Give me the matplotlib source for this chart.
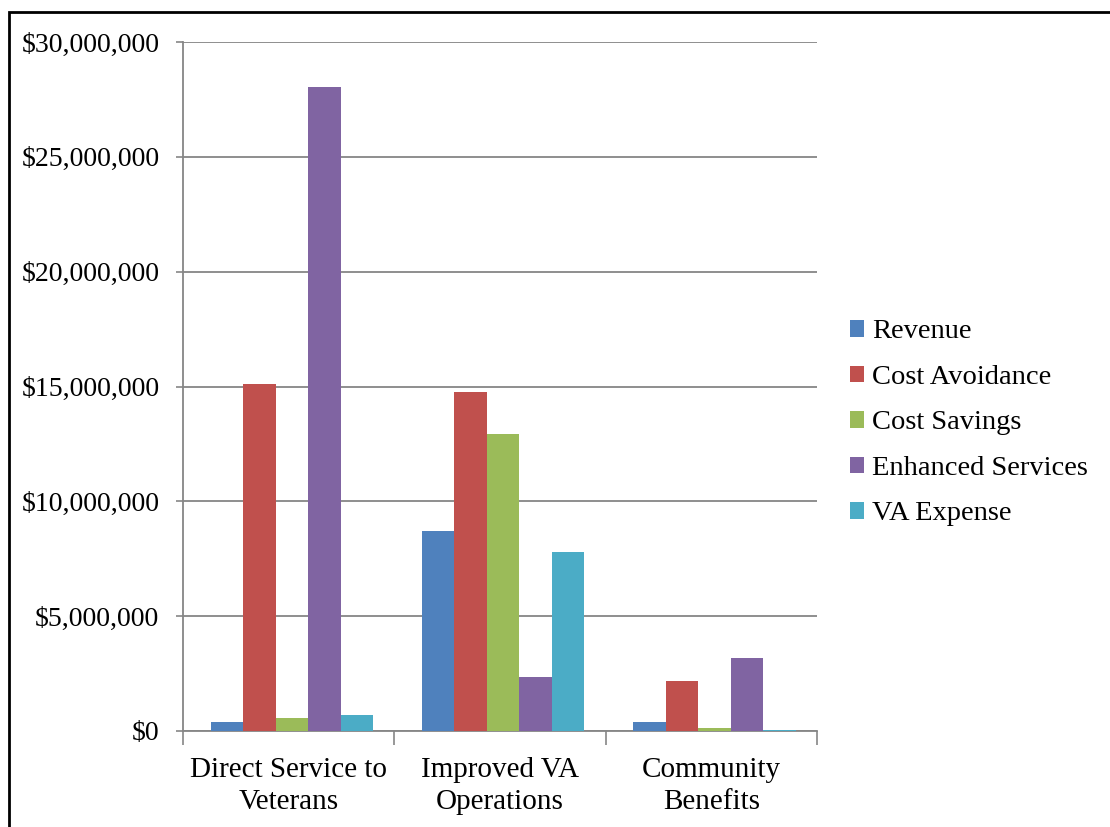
import matplotlib
matplotlib.use("Agg")
import matplotlib.pyplot as plt
import numpy as np
from matplotlib.patches import Rectangle
from matplotlib.ticker import FuncFormatter, FixedLocator

categories = ["Direct Service to\nVeterans", "Improved VA\nOperations", "Community\nBenefits"]
series_names = ["Revenue", "Cost Avoidance", "Cost Savings", "Enhanced Services", "VA Expense"]
revenue = [390000, 8720000, 380000]
cost_avoidance = [15100000, 14760000, 2160000]
cost_savings = [570000, 12930000, 130000]
enhanced_services = [28060000, 2330000, 3200000]
va_expense = [700000, 7800000, 60000]
colors = ["#4F81BD", "#C0504D", "#9BBB59", "#8064A2", "#4BACC6"]
y_ticks = [0, 5000000, 10000000, 15000000, 20000000, 25000000, 30000000]

plt.rcParams['font.family'] = ['Liberation Serif', 'DejaVu Serif']

fig = plt.figure(figsize=(11.1, 8.27), dpi=100)
ax = fig.add_axes([183/1110, 1-731/827, (817-183)/1110, (731-42)/827])

data = [revenue, cost_avoidance, cost_savings, enhanced_services, va_expense]
n = len(series_names)
x = np.arange(len(categories))
bw = 1.0 / (n + 1.5)
for i, (name, vals) in enumerate(zip(series_names, data)):
    offs = (i - (n - 1) / 2) * bw + 0.015
    ax.bar(x + offs, vals, width=bw, color=colors[i], label=name, zorder=3)

ax.set_xlim(-0.5, len(categories) - 0.5)
ax.set_ylim(0, 30000000)
ax.set_yticks(y_ticks)
ax.yaxis.set_major_formatter(FuncFormatter(lambda v, p: "${:,.0f}".format(v)))
ax.grid(axis='y', color='#868686', linewidth=1.3, zorder=0)
ax.set_axisbelow(True)

ax.set_xticks(x)
ax.set_xticklabels(categories, fontsize=21, linespacing=1.3)
ax.xaxis.set_minor_locator(FixedLocator(np.arange(-0.5, len(categories), 1.0)))
ax.tick_params(axis='x', which='major', length=0, pad=19)
ax.tick_params(axis='x', which='minor', length=10, width=1.2, color='#868686', direction='out')
ax.tick_params(axis='y', length=5, width=1.2, color='#868686', labelsize=20, pad=12)

for s in ['top', 'right']:
    ax.spines[s].set_visible(False)
for s in ['left', 'bottom']:
    ax.spines[s].set_color('#868686')
    ax.spines[s].set_linewidth(1.3)

leg = fig.legend(loc='center left', bbox_to_anchor=(824/1110, 1-423/827), frameon=False,
                 fontsize=20.5, handlelength=0.5, handleheight=0.5, handletextpad=0.3,
                 labelspacing=0.72)

rect = Rectangle((9/1110, -0.1), 1.2, 1 - 12/827 + 0.1, transform=fig.transFigure,
                 fill=False, edgecolor='black', linewidth=2, clip_on=False)
fig.patches.append(rect)

fig.savefig("out.png", dpi=100)
